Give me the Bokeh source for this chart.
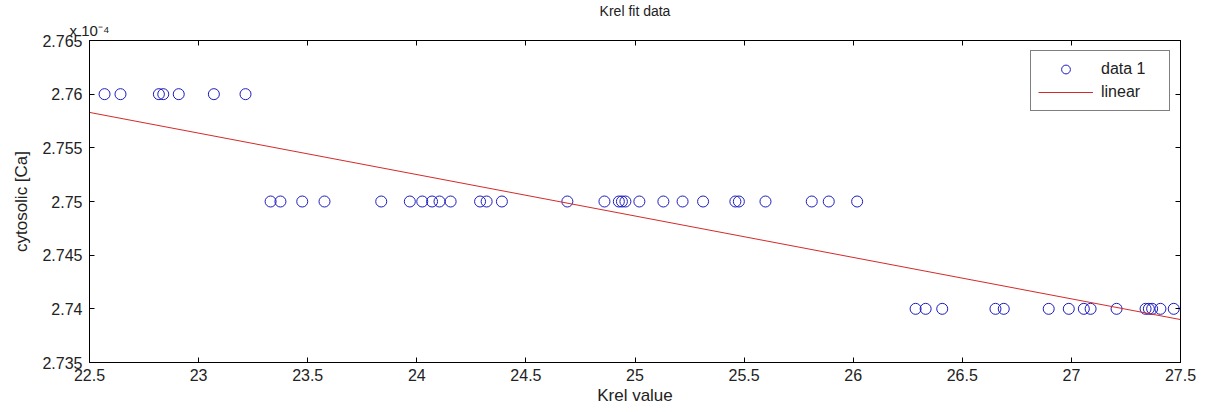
from bokeh.plotting import figure
from bokeh.models import (Range1d, FixedTicker, CustomJSTickFormatter, LinearAxis,
                          Legend, LegendItem)
from bokeh.embed import file_html
from bokeh.resources import INLINE

# ---- data ----
krel_276 = [22.569, 22.642, 22.818, 22.838, 22.909, 23.070, 23.215]
krel_275 = [23.33, 23.375, 23.475, 23.577, 23.837, 23.968, 24.025, 24.07, 24.104, 24.155,
            24.29, 24.32, 24.39, 24.69, 24.86, 24.926, 24.94, 24.956, 25.02, 25.13,
            25.218, 25.312, 25.46, 25.476, 25.598, 25.81, 25.888, 26.018]
krel_274 = [26.286, 26.332, 26.408, 26.652, 26.690, 26.896, 26.988, 27.057, 27.088,
            27.207, 27.340, 27.355, 27.370, 27.408, 27.469]
ca_levels = [2.76e-4, 2.75e-4, 2.74e-4]

fit_x = [22.5, 27.5]
fit_y = [2.7583e-4, 2.7390e-4]

x_ticks = [22.5, 23, 23.5, 24, 24.5, 25, 25.5, 26, 26.5, 27, 27.5]
y_ticks = [2.735e-4, 2.74e-4, 2.745e-4, 2.75e-4, 2.755e-4, 2.76e-4, 2.765e-4]

data_x = krel_276 + krel_275 + krel_274
data_y = ([ca_levels[0]] * len(krel_276) + [ca_levels[1]] * len(krel_275)
          + [ca_levels[2]] * len(krel_274))

FONT = "Liberation Sans"
TXT = "#222222"

p = figure(width=1205, height=412, output_backend="svg", toolbar_location=None,
           x_range=Range1d(22.5, 27.5), y_range=Range1d(2.735e-4, 2.765e-4),
           min_border_left=89, min_border_right=25, min_border_top=38, min_border_bottom=50,
           background_fill_color="white", border_fill_color="white")
p.grid.visible = False
p.outline_line_color = "black"
p.outline_line_width = 1

p.title.text = "Krel fit data"
p.title.align = "center"
p.title.offset = 3
p.title.text_font = FONT
p.title.text_font_style = "normal"
p.title.text_font_size = "14px"
p.title.text_color = TXT
p.title.standoff = 0

yfmt = CustomJSTickFormatter(code="""
var s = (tick*1e4).toFixed(3);
s = s.replace(/0+$/, '').replace(/\\.$/, '');
return s;
""")
blank = CustomJSTickFormatter(code="return '';")

def style_axis(ax):
    ax.major_tick_in = 5
    ax.major_tick_out = 0
    ax.minor_tick_in = 0
    ax.minor_tick_out = 0
    ax.axis_line_color = "black"
    ax.major_tick_line_color = "black"
    ax.major_label_text_font = FONT
    ax.major_label_text_font_size = "16px"
    ax.major_label_text_color = TXT
    ax.axis_label_text_font = FONT
    ax.axis_label_text_font_size = "17px"
    ax.axis_label_text_font_style = "normal"
    ax.axis_label_text_color = TXT

xa = p.xaxis[0]
xa.ticker = FixedTicker(ticks=x_ticks)
style_axis(xa)
xa.major_label_standoff = 6
xa.axis_label = "Krel value"
xa.axis_label_standoff = 2

ya = p.yaxis[0]
ya.ticker = FixedTicker(ticks=y_ticks)
ya.formatter = yfmt
style_axis(ya)
ya.major_label_standoff = 7
ya.axis_label = "cytosolic [Ca]"
ya.axis_label_standoff = 8

top = LinearAxis(ticker=FixedTicker(ticks=x_ticks), formatter=blank)
style_axis(top)
top.major_label_standoff = 0
top.major_label_text_font_size = "0px"
top.axis_label = "x 10\u207b\u2074"
top.axis_label_text_font_size = "15px"
top.axis_label_standoff = 2
top.axis_label_align = "start"
p.add_layout(top, "above")

right = LinearAxis(ticker=FixedTicker(ticks=y_ticks), formatter=blank)
style_axis(right)
right.major_label_standoff = 0
right.major_label_text_font_size = "0px"
p.add_layout(right, "right")

r_pts = p.scatter(data_x, data_y, marker="circle", size=11, fill_color=None,
                  line_color="#1c1cc0", line_width=1)
r_fit = p.line(fit_x, fit_y, line_color="#d42a2a", line_width=1)

legend = Legend(items=[LegendItem(label="data 1", renderers=[r_pts]),
                       LegendItem(label="linear", renderers=[r_fit])],
                location="top_right", margin=10, padding=7, spacing=1,
                glyph_width=55, glyph_height=22, label_standoff=8,
                label_width=61,
                label_text_font=FONT, label_text_font_size="16px",
                label_text_color=TXT, label_height=22,
                border_line_color="black", border_line_width=1,
                background_fill_color="white", background_fill_alpha=1)
p.add_layout(legend)

open("out.html", "w").write(file_html(p, INLINE))
